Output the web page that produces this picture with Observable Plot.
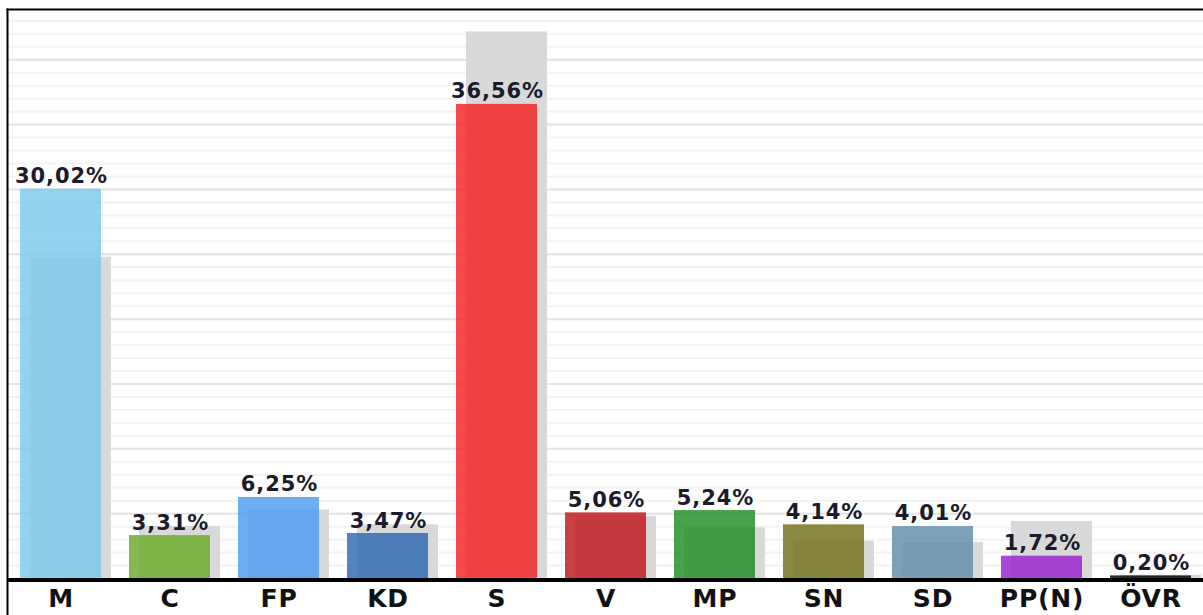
<!DOCTYPE html>
<html>
<head>
<meta charset="utf-8">
<script src="https://cdn.jsdelivr.net/npm/d3@7"></script>
<script src="https://cdn.jsdelivr.net/npm/@observablehq/plot@0.6"></script>
<style>
  html, body { margin: 0; padding: 0; background: #fff; }
  #chart svg { display: block; font-family: "DejaVu Sans", Verdana, sans-serif; }
  #chart g.vlabels text { letter-spacing: 0.9px; }
  #chart g.plabels text { letter-spacing: 0.8px; }
</style>
</head>
<body>
<div id="chart"></div>
<script>
// Parties (categories)
const parties = ["M", "C", "FP", "KD", "S", "V", "MP", "SN", "SD", "PP(N)", "ÖVR"];
// Current result (%)
const current = [30.02, 3.31, 6.25, 3.47, 36.56, 5.06, 5.24, 4.14, 4.01, 1.72, 0.20];
// Previous result (%), grey shadow bars
const previous = [24.77, 4.01, 5.30, 4.14, 42.15, 4.78, 3.91, 2.88, 2.78, 4.40, 0.25];
// Value labels
const labels = ["30,02%", "3,31%", "6,25%", "3,47%", "36,56%", "5,06%", "5,24%", "4,14%", "4,01%", "1,72%", "0,20%"];
// Party colours
const colors = ["#7cc9ec", "#6aab2a", "#4a9cf3", "#2d68b3", "#f52022", "#c0161b", "#208e25", "#737019", "#608eab", "#9a20d0", "#000000"];
// Grid ticks
const minorTicks = d3.range(1, 44);
const majorTicks = [5, 10, 15, 20, 25, 30, 35, 40];

const data = parties.map((p, i) => ({party: p, value: current[i], prev: previous[i], label: labels[i]}));

const chart = Plot.plot({
  width: 1203,
  height: 615,
  marginTop: 9,
  marginBottom: 0,
  marginLeft: 7,
  marginRight: 0,
  x: {domain: parties, range: [1.5, 1209.5], paddingInner: 0.26, paddingOuter: 0.13, axis: null},
  y: {domain: [0, 43.8], range: [578, 10], axis: null},
  color: {domain: parties, range: colors},
  marks: [
    Plot.ruleY(minorTicks, {stroke: "#f3f3f3", strokeWidth: 2}),
    Plot.ruleY(majorTicks, {stroke: "#e4e4e4", strokeWidth: 2}),
    Plot.barY(data, {x: "party", y: "prev", fill: "#d9d9d9", dx: 10}),
    Plot.barY(data, {x: "party", y: "value", fill: "party", fillOpacity: 0.82}),
    Plot.text(data, {x: "party", y: "value", text: "label", dy: -6, dx: 0.5, lineAnchor: "bottom",
      fontSize: 21, fontWeight: "bold", fill: "#1b1b2b", className: "vlabels"}),
    Plot.ruleY([0], {stroke: "#000", strokeWidth: 4, dy: 1.5}),
    Plot.text(parties, {x: d => d, y: 0, dy: 11, lineAnchor: "top",
      fontSize: 25, fontWeight: "bold", fill: "#111", className: "plabels"}),
    Plot.frame({anchor: "left", stroke: "#000", strokeWidth: 2}),
    Plot.frame({anchor: "top", stroke: "#000", strokeWidth: 2})
  ]
});
document.getElementById("chart").appendChild(chart);
</script>
</body>
</html>
